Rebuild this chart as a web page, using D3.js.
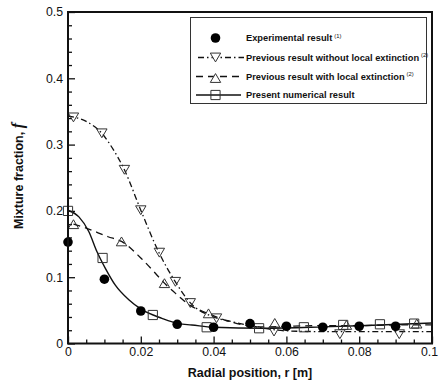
<!DOCTYPE html>
<html>
<head>
<meta charset="utf-8">
<script src="https://cdn.jsdelivr.net/npm/d3@7"></script>
<style>
  html, body { margin: 0; padding: 0; background: #fff; }
  svg { display: block; }
  text { font-family: Arial, "Liberation Sans", sans-serif; fill: #111; }
</style>
</head>
<body>
<svg id="chart" width="439" height="383"></svg>
<script>
// Experimental data (filled circles)
const expR = [0, 0.01, 0.02, 0.03, 0.04, 0.05, 0.06, 0.07, 0.08, 0.09];
const expF = [0.153, 0.097, 0.049, 0.029, 0.0245, 0.030, 0.026, 0.0245, 0.026, 0.026];

// Previous result without local extinction: markers and dash-dot curve
const noExtR = [0.0015, 0.0093, 0.0155, 0.020, 0.0251, 0.0295, 0.0336, 0.0408, 0.0566, 0.0747, 0.0910];
const noExtF = [0.341, 0.317, 0.262, 0.201, 0.137, 0.093, 0.061, 0.038, 0.018, 0.014, 0.014];
const noExtLineR = [0, 0.005, 0.0093, 0.0125, 0.0155, 0.02, 0.025, 0.0295, 0.0335, 0.04, 0.045, 0.05, 0.055, 0.06, 0.07, 0.08, 0.09, 0.1];
const noExtLineF = [0.343, 0.335, 0.317, 0.292, 0.262, 0.201, 0.137, 0.093, 0.062, 0.040, 0.033, 0.027, 0.022, 0.019, 0.018, 0.018, 0.018, 0.018];

// Previous result with local extinction: markers and dashed curve
const extR = [0.0015, 0.0147, 0.0265, 0.0386, 0.0568, 0.0765, 0.0958];
const extF = [0.180, 0.154, 0.091, 0.0455, 0.031, 0.028, 0.030];
const extLineR = [0.0015, 0.005, 0.011, 0.0147, 0.02, 0.024, 0.0265, 0.0305, 0.0326, 0.0386, 0.0445, 0.0535, 0.06, 0.07, 0.08, 0.09, 0.1];
const extLineF = [0.180, 0.174, 0.161, 0.154, 0.129, 0.106, 0.091, 0.071, 0.061, 0.045, 0.033, 0.025, 0.026, 0.027, 0.027, 0.028, 0.028];

// Present numerical result: markers and solid curve
const presR = [0, 0.0095, 0.0233, 0.0381, 0.0525, 0.0648, 0.0756, 0.0857, 0.0951];
const presF = [0.200, 0.129, 0.043, 0.0245, 0.023, 0.0245, 0.028, 0.029, 0.030];
const presLineR = [0, 0.003, 0.0057, 0.008, 0.0103, 0.013, 0.0167, 0.0203, 0.0258, 0.0304, 0.034, 0.04, 0.0537, 0.07, 0.0857, 0.1];
const presLineF = [0.201, 0.191, 0.169, 0.138, 0.113, 0.088, 0.066, 0.051, 0.038, 0.030, 0.028, 0.0245, 0.023, 0.025, 0.028, 0.031];

// Axis ticks
const xTicks = [0, 0.02, 0.04, 0.06, 0.08, 0.1];
const xTickLabels = ["0", "0.02", "0.04", "0.06", "0.08", "0.1"];
const yTicks = [0, 0.1, 0.2, 0.3, 0.4, 0.5];
const yTickLabels = ["0", "0.1", "0.2", "0.3", "0.4", "0.5"];

// Legend entries
const legendLabels = [
  "Experimental result",
  "Previous result without local extinction",
  "Previous result with local extinction",
  "Present numerical result"
];
const legendNotes = ["(1)", "(2)", "(2)", ""];

const svg = d3.select("#chart");
const plotL = 68, plotR = 432, plotT = 12, plotB = 343.5;

const x = d3.scaleLinear().domain([0, 0.1]).range([plotL, plotR]);
const y = d3.scaleLinear().domain([0, 0.5]).range([plotB, plotT]);

const zip = (a, b) => a.map((v, i) => [v, b[i]]);

// Minor ticks
const xMinor = d3.range(0, 0.1001, 0.005).filter(v => Math.abs(v * 50 - Math.round(v * 50)) > 1e-6);
const yMinor = d3.range(0, 0.5001, 0.02).filter(v => Math.abs(v * 10 - Math.round(v * 10)) > 1e-6);

const gx = svg.append("g").attr("transform", `translate(0,${plotB})`)
  .call(d3.axisBottom(x).tickValues(xTicks).tickSize(-7).tickPadding(4)
    .tickFormat((d, i) => xTickLabels[i]));
const gxm = svg.append("g").attr("transform", `translate(0,${plotB})`)
  .call(d3.axisBottom(x).tickValues(xMinor).tickSize(-4).tickFormat(""));
const gy = svg.append("g").attr("transform", `translate(${plotL},0)`)
  .call(d3.axisLeft(y).tickValues(yTicks).tickSize(-7).tickPadding(5)
    .tickFormat((d, i) => yTickLabels[i]));
const gym = svg.append("g").attr("transform", `translate(${plotL},0)`)
  .call(d3.axisLeft(y).tickValues(yMinor).tickSize(-4).tickFormat(""));

[gx, gxm, gy, gym].forEach(g => {
  g.select(".domain").remove();
  g.selectAll(".tick line").attr("stroke", "#111").attr("stroke-width", 1.3);
  g.selectAll(".tick text").attr("font-size", 12.3).attr("fill", "#222")
    .attr("font-family", "Arial, 'Liberation Sans', sans-serif");
});
// keep the last x label inside the page
gx.selectAll(".tick text").filter(d => d === 0.1).attr("dx", -3);

// Curves
const line = d3.line().x(d => x(d[0])).y(d => y(d[1])).curve(d3.curveMonotoneX);

svg.append("path").datum(zip(noExtLineR, noExtLineF))
  .attr("d", line).attr("fill", "none").attr("stroke", "#111")
  .attr("stroke-width", 1.3).attr("stroke-dasharray", "6,3,1.5,3");
svg.append("path").datum(zip(extLineR, extLineF))
  .attr("d", line).attr("fill", "none").attr("stroke", "#111")
  .attr("stroke-width", 1.3).attr("stroke-dasharray", "7,5");
svg.append("path").datum(zip(presLineR, presLineF))
  .attr("d", line).attr("fill", "none").attr("stroke", "#111")
  .attr("stroke-width", 1.4);

// Marker shapes
const triDown = s => `M${-s},${-s * 0.85}L${s},${-s * 0.85}L0,${s * 0.85}Z`;
const triUp = s => `M${-s},${s * 0.85}L${s},${s * 0.85}L0,${-s * 0.85}Z`;
const sq = s => `M${-s},${-s}H${s}V${s}H${-s}Z`;

function markers(data, shape) {
  svg.append("g").selectAll("path").data(data).join("path")
    .attr("transform", d => `translate(${x(d[0])},${y(d[1])})`)
    .attr("d", shape).attr("fill", "none").attr("stroke", "#333").attr("stroke-width", 1);
}
markers(zip(noExtR, noExtF), triDown(5.2));
markers(zip(extR, extF), triUp(5.2));
markers(zip(presR, presF), sq(4.6));

svg.append("g").selectAll("circle").data(zip(expR, expF)).join("circle")
  .attr("cx", d => x(d[0])).attr("cy", d => y(d[1])).attr("r", 4.8).attr("fill", "#000");

// Frame
svg.append("rect").attr("x", plotL).attr("y", plotT)
  .attr("width", plotR - plotL).attr("height", plotB - plotT)
  .attr("fill", "none").attr("stroke", "#111").attr("stroke-width", 2);

// Axis titles
svg.append("text").attr("x", (plotL + plotR) / 2).attr("y", 377)
  .attr("text-anchor", "middle").attr("font-size", 12.5).attr("font-weight", "bold")
  .text("Radial position, r [m]");

const yt = svg.append("text").attr("transform", "translate(23,176) rotate(-90)")
  .attr("text-anchor", "middle").attr("font-size", 12.5).attr("font-weight", "bold");
yt.append("tspan").text("Mixture fraction, ");
yt.append("tspan").attr("font-family", "'Liberation Serif', 'Times New Roman', serif")
  .attr("font-style", "italic").attr("font-weight", "bold").attr("font-size", 16).text("f");

// Legend
const lg = svg.append("g");
lg.append("rect").attr("x", 190.5).attr("y", 17.5).attr("width", 236).attr("height", 86)
  .attr("fill", "#fff").attr("stroke", "#333").attr("stroke-width", 1);

const rowY = [38, 57.5, 76.5, 95];
const lx0 = 196, lx1 = 244, mx = 215.5, tx = 246;

// row 0: filled circle
lg.append("circle").attr("cx", mx).attr("cy", rowY[0]).attr("r", 4.8).attr("fill", "#000");
// row 1: dash-dot with down triangle
lg.append("line").attr("x1", lx0).attr("x2", lx1).attr("y1", rowY[1]).attr("y2", rowY[1])
  .attr("stroke", "#111").attr("stroke-width", 1.3).attr("stroke-dasharray", "6,3,1.5,3")
  .attr("stroke-dashoffset", -2);
lg.append("path").attr("transform", `translate(${mx},${rowY[1]})`).attr("d", triDown(5.2))
  .attr("fill", "#fff").attr("stroke", "#333");
// row 2: dashed with up triangle
lg.append("line").attr("x1", lx0).attr("x2", lx1).attr("y1", rowY[2]).attr("y2", rowY[2])
  .attr("stroke", "#111").attr("stroke-width", 1.3).attr("stroke-dasharray", "7,5");
lg.append("path").attr("transform", `translate(${mx},${rowY[2] + 1.5})`).attr("d", triUp(5.2))
  .attr("fill", "#fff").attr("stroke", "#333");
// row 3: solid with square
lg.append("line").attr("x1", lx0).attr("x2", lx1 - 3).attr("y1", rowY[3]).attr("y2", rowY[3])
  .attr("stroke", "#111").attr("stroke-width", 1.4);
lg.append("path").attr("transform", `translate(${mx},${rowY[3]})`).attr("d", sq(4.6))
  .attr("fill", "none").attr("stroke", "#333");

legendLabels.forEach((t, i) => {
  const txt = lg.append("text").attr("x", tx).attr("y", rowY[i] + 3.3)
    .attr("font-size", 9.3).attr("font-weight", "bold").attr("fill", "#111");
  txt.append("tspan").text(t);
  if (legendNotes[i]) {
    txt.append("tspan").attr("dx", 2).attr("dy", -3.8).attr("font-size", 5.8)
      .attr("font-weight", "normal").text(legendNotes[i]);
  }
});
</script>
</body>
</html>
